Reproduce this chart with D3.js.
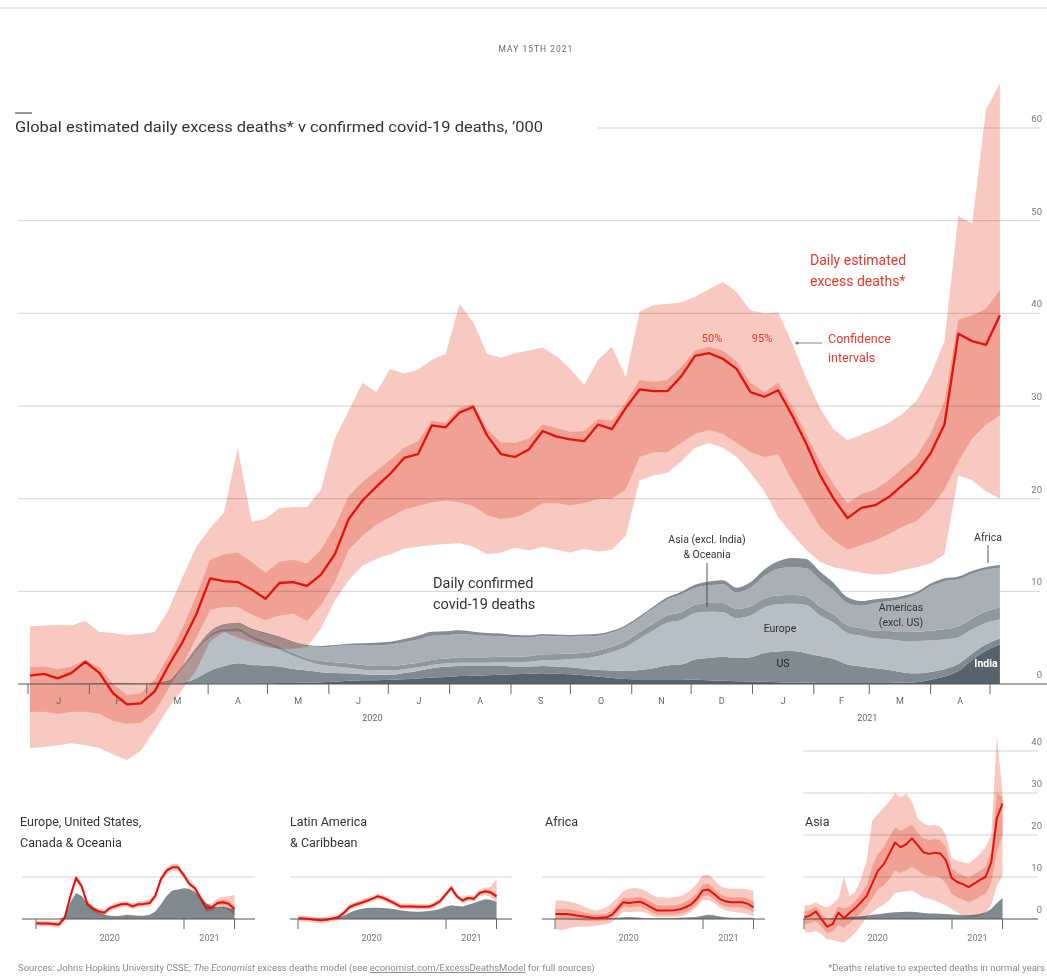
<!DOCTYPE html>
<html><head><meta charset="utf-8">
<script src="https://cdn.jsdelivr.net/npm/d3@7"></script>
<style>
body{margin:0;background:#fff}
svg{display:block}
text{font-family:Roboto,"Open Sans",sans-serif}
</style>
</head><body>
<svg id="c" width="1047" height="976"></svg>
<script>
// ---------- DATA (thousands of deaths per day) ----------
// Main chart: weekly observations starting 2 Jan 2020
const mainStart = "2020-01-02";
const central = [0.9,1.1,0.6,1.2,2.4,1.2,-1.0,-2.2,-2.1,-0.8,
 2.0,4.5,7.5,11.4,11.1,11.0,10.2,9.2,10.9,11.0,
 10.6,11.8,14.0,17.8,19.8,21.3,22.7,24.4,24.8,27.9,
 27.7,29.3,29.9,26.8,24.8,24.5,25.3,27.3,26.7,26.4,
 26.2,28.0,27.5,29.8,31.8,31.6,31.6,33.2,35.4,35.7,
 35.1,34.0,31.5,31.0,31.7,29.0,26.0,22.6,20.0,17.9,
 19.0,19.3,20.2,21.5,22.8,24.9,28.0,37.8,37.0,36.6,39.8];
const hi95 = [6.2,6.3,6.4,6.3,6.8,5.6,5.5,5.3,5.4,5.6,
 8.0,11.5,14.8,16.8,18.5,25.5,17.5,17.8,19.0,19.1,
 19.1,21.0,26.5,29.5,32.5,31.5,34.0,33.5,33.9,35.0,
 35.6,41.0,39.0,35.6,35.2,35.7,36.0,36.3,35.4,34.0,
 32.3,35.0,36.4,33.1,40.2,40.9,41.0,41.2,41.8,42.6,
 43.4,42.3,40.3,40.0,40.1,36.8,33.1,29.8,27.5,26.3,
 26.9,27.5,28.2,29.2,30.6,33.3,37.0,50.5,49.7,62.0,64.8];
const lo95 = [-6.9,-6.8,-6.6,-6.4,-6.6,-6.9,-7.6,-8.2,-7.2,-5.0,
 -2.6,-0.6,1.5,4.6,5.6,5.0,4.5,4.0,3.8,3.8,
 4.0,6.0,9.0,11.2,12.8,13.5,14.0,14.6,14.8,15.0,
 15.1,15.2,14.8,14.0,14.2,14.7,14.4,14.8,14.5,14.2,
 14.6,14.3,14.5,16.0,22.0,22.5,22.8,24.0,25.5,26.0,
 25.5,24.5,22.8,20.8,18.0,16.2,14.5,13.2,12.6,12.3,
 12.0,11.8,11.9,12.3,12.6,13.0,14.0,22.5,22.0,20.8,20.0];
const hi50 = [1.8,1.9,1.6,1.9,2.6,1.8,0.0,-1.2,-1.0,0.5,
 3.0,6.0,9.5,13.4,14.0,14.2,13.2,12.0,13.2,13.4,
 13.0,14.5,17.0,20.3,21.8,23.0,24.2,25.5,26.2,28.4,
 28.2,29.8,30.2,27.5,26.1,26.0,26.5,28.0,27.6,27.2,
 27.3,28.6,28.4,30.4,32.8,32.6,32.8,34.2,36.0,36.4,
 36.0,34.8,32.5,31.5,32.5,30.0,27.0,24.0,21.5,19.5,
 20.5,21.0,22.0,23.3,24.6,27.0,30.5,39.3,39.8,40.5,42.5];
const lo50 = [-3.0,-3.0,-3.2,-3.0,-3.0,-3.2,-4.0,-4.3,-4.2,-3.0,
 -0.5,2.0,5.0,8.0,8.3,8.3,7.5,6.9,7.4,7.6,
 6.8,8.5,11.0,14.5,16.0,17.2,18.0,18.8,19.2,19.6,
 19.8,19.6,19.2,18.2,17.8,18.0,18.6,19.5,19.5,19.3,
 19.5,20.0,20.0,21.0,24.5,25.0,25.0,26.0,27.0,27.4,
 27.0,26.0,25.0,24.5,24.8,22.0,19.5,17.0,15.5,14.5,
 15.0,15.5,16.2,17.0,17.6,19.0,21.0,24.0,26.5,28.0,29.0];

// Confirmed covid-19 deaths by region (stack order bottom→top)
const regionKeys = ["India","US","Europe","Asia","Americas","Africa"];
const confIndia = [0,0,0,0,0,0,0,0,0,0,0,0,0.01,0.02,0.03,0.04,0.06,0.07,
 0.1,0.12,0.15,0.18,0.25,0.35,0.4,0.4,0.45,0.5,
 0.6,0.7,0.75,0.85,0.9,0.95,1.0,1.05,1.1,1.15,
 1.1,1.05,0.95,0.8,0.65,0.55,0.5,0.5,0.5,0.5,
 0.45,0.4,0.35,0.3,0.28,0.25,0.2,0.15,0.13,0.11,
 0.1,0.1,0.1,0.1,0.12,0.15,0.2,0.45,0.8,1.4,
 2.6,3.6,4.3];
const confUS = [0,0,0,0,0,0,0,0,0,0,
 0.01,0.1,0.6,1.4,1.9,2.2,2.0,1.9,1.8,1.5,
 1.3,1.1,0.95,0.8,0.65,0.6,0.55,0.7,0.8,1.0,
 1.1,1.1,1.05,1.0,0.95,0.85,0.8,0.8,0.8,0.75,
 0.7,0.72,0.8,0.85,1.0,1.2,1.5,1.6,2.2,2.4,
 2.6,2.5,2.6,3.1,3.3,3.4,3.2,2.9,2.6,2.0,
 1.8,1.6,1.4,1.1,0.95,0.85,0.8,0.75,0.7,0.68,0.65];
const confEurope = [0,0,0,0,0,0,0,0,0.01,0.03,
 0.25,1.6,2.9,3.6,3.7,3.4,2.8,2.3,1.8,1.4,
 1.0,0.8,0.7,0.6,0.5,0.45,0.45,0.4,0.4,0.35,
 0.35,0.35,0.35,0.35,0.4,0.45,0.5,0.6,0.7,0.9,
 1.1,1.5,2.0,2.6,3.4,4.1,4.6,4.8,5.0,5.0,
 4.8,4.3,4.5,4.9,5.1,5.1,5.2,4.4,3.9,3.4,
 3.3,3.2,3.3,3.4,3.5,3.4,3.2,2.9,2.6,2.3,2.0];
const confAsia = [0,0,0.01,0.02,0.04,0.07,0.12,0.1,0.05,0.1,
 0.1,0.2,0.25,0.3,0.35,0.4,0.4,0.4,0.4,0.35,
 0.35,0.4,0.45,0.5,0.5,0.5,0.5,0.5,0.5,0.55,
 0.55,0.6,0.6,0.6,0.6,0.6,0.6,0.65,0.65,0.6,
 0.6,0.6,0.6,0.65,0.7,0.75,0.8,0.85,0.9,0.95,
 1.0,1.0,1.0,1.0,0.95,0.95,0.95,0.95,0.9,0.85,
 0.85,0.85,0.9,0.95,1.0,1.05,1.1,1.15,1.2,1.25,1.3];
const confAmericas = [0,0,0,0,0,0,0,0,0,0,
 0,0.05,0.15,0.3,0.4,0.5,0.6,0.75,0.9,1.1,
 1.3,1.5,1.7,1.9,2.1,2.2,2.3,2.4,2.5,2.6,
 2.5,2.5,2.4,2.3,2.2,2.1,2.0,2.0,1.9,1.8,
 1.8,1.6,1.5,1.5,1.5,1.6,1.7,1.9,1.8,1.9,
 2.0,1.8,2.0,2.4,2.9,3.0,3.0,2.9,2.6,2.4,
 2.4,3.0,3.2,3.6,4.0,4.8,5.2,5.1,4.8,4.5,4.3];
const confAfrica = [0,0,0,0,0,0,0,0,0,0,
 0,0.01,0.02,0.05,0.07,0.08,0.1,0.1,0.1,0.1,
 0.1,0.12,0.15,0.2,0.25,0.3,0.3,0.35,0.4,0.45,
 0.45,0.4,0.35,0.3,0.3,0.25,0.25,0.2,0.2,0.2,
 0.2,0.2,0.2,0.2,0.2,0.2,0.25,0.3,0.35,0.4,
 0.45,0.5,0.6,0.7,0.8,1.0,1.0,0.9,0.8,0.6,
 0.5,0.4,0.35,0.3,0.3,0.3,0.3,0.3,0.3,0.3,0.3];

const monthLabels = ["J","F","M","A","M","J","J","A","S","O","N","D","J","F","M","A"];
const yearLabels = ["2020","2021"];
const mainTicks = [0,10,20,30,40,50,60];

// Small multiples: fortnightly observations starting 2 Jan 2020
const smallStart = "2020-01-02";
const euCentral = [-1.0,-1.1,-1.1,-1.2,-1.3,0.3,5.4,9.8,7.8,3.6,2.5,1.8,1.5,2.6,3.1,3.5,3.6,3.0,3.5,3.6,3.8,5.5,9.5,11.5,12.3,12.3,10.5,8.4,7.3,5.0,2.6,2.8,3.8,4.0,3.6,2.4];
const euLo95 = [-1.6,-1.7,-1.8,-1.9,-2.0,-0.5,4.6,9.0,7.0,2.8,1.8,1.1,0.8,1.9,2.4,2.8,2.9,2.3,2.8,2.9,3.0,4.7,8.7,10.7,11.5,11.5,9.7,7.6,6.5,4.2,1.8,1.9,2.7,2.7,2.0,0.8];
const euHi95 = [-0.4,-0.4,-0.4,-0.5,-0.6,1.1,6.2,10.6,8.6,4.4,3.2,2.5,2.2,3.3,3.8,4.2,4.3,3.7,4.2,4.3,4.6,6.3,10.3,12.3,13.1,13.1,11.3,9.2,8.1,5.8,3.5,3.8,4.9,5.3,5.4,5.8];
const euLo50 = [-1.3,-1.4,-1.4,-1.5,-1.6,0.0,5.1,9.5,7.5,3.3,2.2,1.5,1.2,2.3,2.8,3.2,3.3,2.7,3.2,3.3,3.5,5.2,9.2,11.2,12.0,12.0,10.2,8.1,7.0,4.7,2.3,2.4,3.3,3.4,2.9,1.7];
const euHi50 = [-0.7,-0.8,-0.8,-0.9,-1.0,0.6,5.7,10.1,8.1,3.9,2.8,2.1,1.8,2.9,3.4,3.8,3.9,3.3,3.8,3.9,4.1,5.8,9.8,11.8,12.6,12.6,10.8,8.7,7.6,5.3,2.9,3.2,4.3,4.6,4.3,3.1];
const euConfirmed = [0,0,0,0,0,0.5,4.0,6.2,5.5,3.8,2.4,1.5,1.0,0.8,0.7,0.8,1.0,0.9,0.8,0.8,1.0,1.8,3.5,5.5,6.8,7.0,7.3,7.2,6.5,5.2,3.8,3.0,2.8,3.0,2.6,2.2];

const laCentral = [0.2,0.1,0.0,-0.2,-0.3,-0.2,0.1,0.4,1.4,2.8,3.4,3.8,4.3,4.8,5.4,5.0,4.4,3.7,3.0,3.0,3.0,2.9,2.9,2.9,3.4,4.2,5.8,7.4,5.4,4.4,5.0,4.8,6.2,6.6,6.3,5.4];
const laLo95 = [-0.5,-0.6,-0.7,-0.9,-1.0,-0.9,-0.6,-0.3,0.7,2.1,2.7,3.1,3.6,4.1,4.7,4.3,3.7,3.0,2.3,2.3,2.3,2.2,2.2,2.2,2.7,3.5,5.1,6.7,4.7,3.7,4.3,4.1,5.4,5.7,5.2,4.0];
const laHi95 = [0.9,0.8,0.7,0.5,0.4,0.5,0.8,1.1,2.1,3.5,4.1,4.5,5.0,5.5,6.1,5.7,5.1,4.4,3.7,3.7,3.7,3.6,3.6,3.6,4.1,4.9,6.5,8.1,6.1,5.1,5.7,5.5,7.0,7.5,7.6,9.6];
const laLo50 = [-0.1,-0.2,-0.3,-0.5,-0.6,-0.5,-0.2,0.1,1.1,2.5,3.1,3.5,4.0,4.5,5.1,4.7,4.1,3.4,2.7,2.7,2.7,2.6,2.6,2.6,3.1,3.9,5.5,7.1,5.1,4.1,4.7,4.5,5.9,6.2,5.8,4.7];
const laHi50 = [0.5,0.4,0.3,0.1,0.0,0.1,0.4,0.7,1.7,3.1,3.7,4.1,4.6,5.1,5.7,5.3,4.7,4.0,3.3,3.3,3.3,3.2,3.2,3.2,3.7,4.5,6.1,7.7,5.7,4.7,5.3,5.1,6.5,7.0,6.8,6.1];
const laConfirmed = [0,0,0,0,0,0,0.05,0.3,0.8,1.5,2.0,2.4,2.6,2.7,2.7,2.6,2.5,2.3,2.1,1.9,1.8,1.7,1.8,1.9,2.1,2.4,2.9,3.3,3.1,3.0,3.4,3.8,4.3,4.7,4.5,4.1];

const afCentral = [1.2,1.2,1.2,1.0,0.8,0.6,0.4,0.2,0.3,0.4,1.0,2.5,4.0,3.8,4.0,4.1,3.5,2.7,2.0,2.0,2.0,2.1,2.3,2.8,3.5,4.8,6.8,7.0,6.0,4.8,4.2,4.0,4.0,4.0,3.6,2.8];
const afLo95 = [-2.4,-2.6,-2.4,-2.0,-1.8,-1.8,-1.8,-1.6,-1.4,-1.2,-0.8,0.4,1.8,1.6,1.8,1.8,1.4,0.8,0.4,0.4,0.4,0.4,0.6,1.0,1.8,3.0,4.4,4.6,3.8,2.8,2.0,1.8,1.6,1.4,1.2,0.6];
const afHi95 = [4.4,4.4,4.2,4.0,3.6,3.0,2.4,2.0,2.2,2.8,3.8,5.2,6.6,7.2,7.4,7.2,6.6,5.8,5.2,5.2,5.0,5.2,5.4,6.0,7.0,8.4,10.4,10.6,9.4,8.0,7.4,7.2,7.2,7.2,7.0,6.6];
const afLo50 = [0.0,0.0,0.0,-0.1,-0.3,-0.4,-0.5,-0.6,-0.5,-0.4,0.1,1.5,3.0,2.7,2.9,2.9,2.4,1.6,1.0,1.0,1.0,1.1,1.2,1.6,2.3,3.6,5.4,5.6,4.7,3.6,3.0,2.8,2.8,2.7,2.3,1.6];
const afHi50 = [2.4,2.4,2.4,2.2,1.9,1.6,1.3,1.0,1.1,1.3,2.0,3.5,5.0,5.0,5.2,5.3,4.7,3.9,3.2,3.2,3.2,3.3,3.5,4.1,4.9,6.2,8.2,8.4,7.3,6.0,5.4,5.2,5.2,5.2,4.9,4.2];
const afConfirmed = [0,0,0,0,0,0,0.02,0.05,0.1,0.15,0.2,0.3,0.4,0.45,0.4,0.3,0.2,0.2,0.15,0.15,0.2,0.25,0.3,0.35,0.4,0.5,0.8,1.0,0.9,0.6,0.4,0.3,0.3,0.3,0.3,0.3];

const asCentral = [0.4,0.8,1.8,0.0,-1.8,-1.2,1.5,0.2,1.5,2.6,4.0,5.5,8.5,11.5,13.0,15.5,18.2,17.1,17.8,19.2,17.6,15.9,15.5,15.8,15.6,14.0,9.8,8.8,8.3,7.6,8.4,9.3,10.0,13.5,24.0,27.5];
const asLo95 = [-3.0,-3.2,-2.8,-3.6,-4.8,-5.0,-5.4,-5.6,-4.6,-3.2,-1.6,0.5,1.6,2.6,3.4,4.5,6.2,6.4,6.6,6.8,6.0,5.2,4.8,4.4,3.8,3.2,2.4,1.6,0.8,0.5,0.4,0.8,1.6,3.2,7.9,10.3];
const asHi95 = [3.2,3.4,4.0,3.2,2.8,3.6,5.0,10.0,5.5,6.5,9.5,14.0,23.5,25.0,26.5,28.0,30.0,29.0,29.8,28.0,24.0,22.8,22.2,22.4,22.0,20.0,14.5,13.8,13.5,13.2,14.3,15.5,17.0,20.0,43.5,30.0];
const asLo50 = [-1.2,-1.0,-0.5,-1.8,-3.4,-3.0,-1.5,-2.0,-1.0,0.2,1.5,3.0,5.0,7.0,8.0,9.5,11.5,11.0,11.6,12.4,11.6,10.6,10.2,10.2,9.8,8.6,6.0,5.2,4.6,4.0,4.5,5.3,6.0,8.5,16.0,20.0];
const asHi50 = [1.8,2.2,3.0,1.5,-0.2,0.4,3.0,2.5,3.0,4.2,6.0,8.0,12.5,15.5,17.0,19.5,21.8,21.0,21.8,22.5,20.5,19.2,18.8,19.0,18.8,17.0,12.0,11.0,10.5,9.8,10.6,11.5,12.4,16.0,30.0,29.0];
const asConfirmed = [0,0,0.05,0.1,0.05,0.1,0.2,0.35,0.45,0.55,0.65,0.8,1.0,1.15,1.3,1.5,1.6,1.65,1.7,1.75,1.6,1.4,1.3,1.3,1.25,1.2,1.1,1.0,0.9,0.9,1.0,1.2,1.6,2.4,3.8,5.0];

const panelTitles = [["Europe, United States,","Canada & Oceania"],["Latin America","& Caribbean"],["Africa"],["Asia"]];
const smallTicks = [0,10,20,30,40];

// ---------- DRAWING ----------
const svg = d3.select("#c");
const DAY = 864e5;
const RED = "#e3120b";
const BAND95 = "#f8c9c0", BAND50 = "#f1a194";
const t0 = Date.parse(mainStart + "T00:00:00Z");
const weekDates = central.map((_, i) => new Date(t0 + i * 7 * DAY));

const x = d3.scaleUtc().domain([new Date(Date.UTC(2020,0,1)), new Date(Date.UTC(2021,4,1))]).range([28, 990]);
const y = d3.scaleLinear().domain([0, 60]).range([684, 128]);

// top rule
svg.append("line").attr("x1",0).attr("x2",1047).attr("y1",8).attr("y2",8).attr("stroke","#d6d6d6");
svg.append("text").attr("x",536).attr("y",52).attr("text-anchor","middle")
  .attr("font-size",8.5).attr("letter-spacing",1).attr("fill","#666").text("MAY 15TH 2021");

// title
svg.append("line").attr("x1",15).attr("x2",32).attr("y1",113).attr("y2",113).attr("stroke","#333").attr("stroke-width",1);
svg.append("text").attr("x",15).attr("y",132).attr("font-size",15).attr("fill","#333")
  .attr("textLength",528).attr("lengthAdjust","spacingAndGlyphs")
  .text("Global estimated daily excess deaths* v confirmed covid-19 deaths, \u2019000");

// gridlines + right labels
const grid = svg.append("g");
mainTicks.filter(t => t > 0).forEach(t => {
  grid.append("line").attr("x1", t === 60 ? 598 : 18).attr("x2", 1040)
    .attr("y1", y(t)).attr("y2", y(t)).attr("stroke", "#d3d3d3").attr("stroke-width", 1);
});
mainTicks.forEach(t => {
  grid.append("text").attr("x", 1042).attr("y", y(t) - 6).attr("text-anchor", "end")
    .attr("font-size", 9.5).attr("fill", "#777").text(t);
});

// stacked confirmed deaths
const confArrays = {India:confIndia, US:confUS, Europe:confEurope, Asia:confAsia, Americas:confAmericas, Africa:confAfrica};
const rows = weekDates.map((d, i) => { const r = {date: d}; regionKeys.forEach(k => r[k] = confArrays[k][i]); return r; });
const series = d3.stack().keys(regionKeys)(rows);
const stackColors = {India:"#56636c", US:"#7f8a91", Europe:"#b6bfc6", Asia:"#8e989f", Americas:"#a8b0b6", Africa:"#838d94"};
const stackArea = d3.area().x(d => x(d.data.date)).y0(d => y(d[0])).y1(d => y(d[1])).curve(d3.curveMonotoneX);
svg.append("g").selectAll("path").data(series).join("path")
  .attr("d", stackArea).attr("fill", d => stackColors[d.key]);

// confidence bands
const bandG = svg.append("g").style("mix-blend-mode", "multiply");
const bandArea = (lo, hi) => d3.area().x((d, i) => x(weekDates[i])).y0((d, i) => y(lo[i])).y1((d, i) => y(hi[i]))(central);
bandG.append("path").attr("d", bandArea(lo95, hi95)).attr("fill", BAND95);
bandG.append("path").attr("d", bandArea(lo50, hi50)).attr("fill", BAND50);

// baseline & month ticks
svg.append("line").attr("x1", 18).attr("x2", 1047).attr("y1", y(0)).attr("y2", y(0)).attr("stroke", "#555").attr("stroke-width", 1.2);
const months = d3.utcMonth.range(new Date(Date.UTC(2020,0,1)), new Date(Date.UTC(2021,4,2)));
const axG = svg.append("g");
months.forEach(m => {
  axG.append("line").attr("x1", x(m)).attr("x2", x(m)).attr("y1", y(0)).attr("y2", y(0) + 10).attr("stroke", "#666").attr("stroke-width", 1);
});
monthLabels.forEach((lab, i) => {
  const mid = new Date((months[i].getTime() + months[i + 1].getTime()) / 2);
  axG.append("text").attr("x", x(mid)).attr("y", 704).attr("text-anchor", "middle")
    .attr("font-size", 9).attr("fill", "#666").text(lab);
});
axG.append("text").attr("x", x(new Date(Date.UTC(2020,5,23)))).attr("y", 721).attr("text-anchor", "middle").attr("font-size", 9).attr("fill", "#666").text(yearLabels[0]);
axG.append("text").attr("x", x(new Date(Date.UTC(2021,1,28)))).attr("y", 721).attr("text-anchor", "middle").attr("font-size", 9).attr("fill", "#666").text(yearLabels[1]);

// central line
svg.append("path").attr("d", d3.line().x((d, i) => x(weekDates[i])).y(d => y(d))(central))
  .attr("fill", "none").attr("stroke", RED).attr("stroke-width", 2.3).attr("stroke-linejoin", "round");

// annotations
const ann = svg.append("g");
const txt = (g, xx, yy, s, size, fill, anchor, weight) => g.append("text").attr("x", xx).attr("y", yy)
  .attr("font-size", size).attr("fill", fill).attr("text-anchor", anchor || "start").attr("font-weight", weight || 400).text(s);
txt(ann, 810, 265, "Daily estimated", 14, "#e2392c");
txt(ann, 810, 286, "excess deaths*", 14, "#e2392c");
txt(ann, 712, 342, "50%", 11, "#e2392c", "middle");
txt(ann, 762, 342, "95%", 11, "#e2392c", "middle");
ann.append("circle").attr("cx", 797).attr("cy", 343).attr("r", 1.6).attr("fill", "#777");
ann.append("line").attr("x1", 797).attr("x2", 822).attr("y1", 343).attr("y2", 343).attr("stroke", "#777").attr("stroke-width", 0.9);
txt(ann, 828, 343, "Confidence", 12.5, "#e2392c");
txt(ann, 828, 362, "intervals", 12.5, "#e2392c");
txt(ann, 433, 588, "Daily confirmed", 14.5, "#333");
txt(ann, 433, 609, "covid-19 deaths", 14.5, "#333");
txt(ann, 707, 543, "Asia (excl. India)", 10.5, "#333", "middle");
txt(ann, 707, 558, "& Oceania", 10.5, "#333", "middle");
ann.append("line").attr("x1", 707).attr("x2", 707).attr("y1", 563).attr("y2", 607).attr("stroke", "#444").attr("stroke-width", 0.9);
txt(ann, 780, 632, "Europe", 10.5, "#333", "middle");
txt(ann, 783, 667, "US", 10.5, "#222", "middle");
txt(ann, 901, 611, "Americas", 10.5, "#333", "middle");
txt(ann, 901, 626, "(excl. US)", 10.5, "#333", "middle");
txt(ann, 988, 541, "Africa", 10.5, "#333", "middle");
ann.append("line").attr("x1", 988).attr("x2", 988).attr("y1", 545).attr("y2", 563).attr("stroke", "#444").attr("stroke-width", 0.9);
txt(ann, 986, 667, "India", 10.5, "#fff", "middle", 700);

// ---------- SMALL MULTIPLES ----------
const s0 = Date.parse(smallStart + "T00:00:00Z");
const smallDates = euCentral.map((_, i) => new Date(s0 + i * 14 * DAY));
const ys = d3.scaleLinear().domain([0, 40]).range([919, 751]);
const panels = [
  {x0: 36, ext: [-14, 219], c: euCentral, lo95: euLo95, hi95: euHi95, lo50: euLo50, hi50: euHi50, g: euConfirmed, grid: [10], tx: 20},
  {x0: 298, ext: [-8, 214], c: laCentral, lo95: laLo95, hi95: laHi95, lo50: laLo50, hi50: laHi50, g: laConfirmed, grid: [10], tx: 290},
  {x0: 555, ext: [-13, 210], c: afCentral, lo95: afLo95, hi95: afHi95, lo50: afLo50, hi50: afHi50, g: afConfirmed, grid: [10], tx: 545},
  {x0: 804, ext: [-1, 234], c: asCentral, lo95: asLo95, hi95: asHi95, lo50: asLo50, hi50: asHi50, g: asConfirmed, grid: [10,20,30,40], tx: 805}
];
panels.forEach((p, pi) => {
  const g = svg.append("g");
  const xs = d3.scaleUtc().domain([new Date(Date.UTC(2020,0,1)), new Date(Date.UTC(2021,0,1))]).range([p.x0, p.x0 + 148]);
  panelTitles[pi].forEach((t, li) => txt(g, p.tx, 826 + li * 21, t, 12.5, "#333"));
  p.grid.forEach(t => g.append("line").attr("x1", p.x0 + p.ext[0]).attr("x2", p.x0 + p.ext[1])
    .attr("y1", ys(t)).attr("y2", ys(t)).attr("stroke", "#d3d3d3"));
  g.append("path").attr("d", d3.area().x((d, i) => xs(smallDates[i])).y0(ys(0)).y1(d => ys(d))(p.g)).attr("fill", "#7f898e");
  const bg = g.append("g").style("mix-blend-mode", "multiply");
  const ar = (lo, hi) => d3.area().x((d, i) => xs(smallDates[i])).y0((d, i) => ys(lo[i])).y1((d, i) => ys(hi[i]))(p.c);
  bg.append("path").attr("d", ar(p.lo95, p.hi95)).attr("fill", BAND95);
  bg.append("path").attr("d", ar(p.lo50, p.hi50)).attr("fill", BAND50);
  g.append("line").attr("x1", p.x0 + p.ext[0]).attr("x2", p.x0 + p.ext[1]).attr("y1", ys(0)).attr("y2", ys(0)).attr("stroke", "#555").attr("stroke-width", 1.1);
  [new Date(Date.UTC(2020,0,1)), new Date(Date.UTC(2021,0,1)), smallDates[smallDates.length - 1]].forEach(d => {
    g.append("line").attr("x1", xs(d)).attr("x2", xs(d)).attr("y1", ys(0)).attr("y2", ys(0) + 10).attr("stroke", "#666");
  });
  txt(g, xs(new Date(Date.UTC(2020,6,1))), 941, yearLabels[0], 9, "#777", "middle");
  txt(g, xs(new Date(Date.UTC(2021,2,5))), 941, yearLabels[1], 9, "#777", "middle");
  g.append("path").attr("d", d3.line().x((d, i) => xs(smallDates[i])).y(d => ys(d))(p.c))
    .attr("fill", "none").attr("stroke", RED).attr("stroke-width", 2).attr("stroke-linejoin", "round");
  if (pi === 3) {
    smallTicks.forEach(t => txt(g, 1042, ys(t) - 6, t, 9.5, "#777", "end"));
  }
});

// footer
const f = svg.append("text").attr("x", 18).attr("y", 971).attr("font-size", 9.5).attr("fill", "#8a8a8a");
f.append("tspan").text("Sources: Johns Hopkins University CSSE; ");
f.append("tspan").attr("font-style", "italic").text("The Economist");
f.append("tspan").text(" excess deaths model (see ");
f.append("tspan").attr("text-decoration", "underline").text("economist.com/ExcessDeathsModel");
f.append("tspan").text(" for full sources)");
txt(svg, 1045, 971, "*Deaths relative to expected deaths in normal years", 9.5, "#8a8a8a", "end");
</script>
</body></html>
